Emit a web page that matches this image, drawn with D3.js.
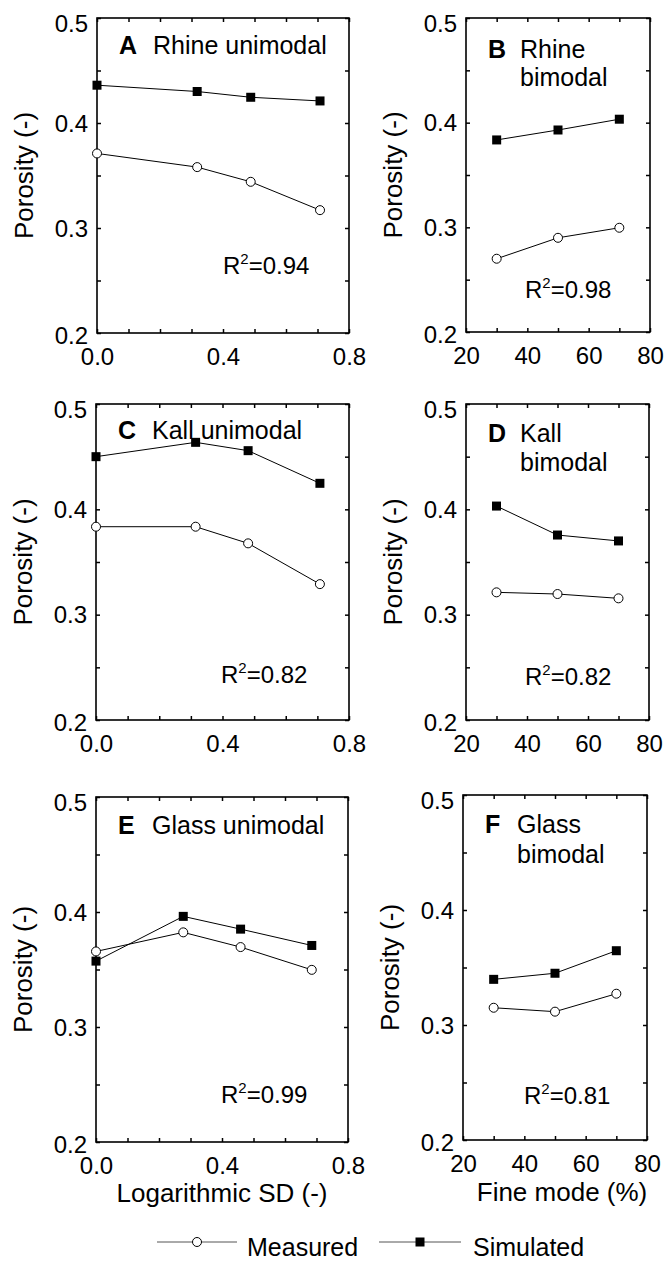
<!DOCTYPE html>
<html>
<head>
<meta charset="utf-8">
<script src="https://cdn.jsdelivr.net/npm/d3@7"></script>
<style>
  body { margin: 0; background: #fff; }
  svg { font-family: "Liberation Sans", Arial, sans-serif; }
</style>
</head>
<body>
<div id="chart"></div>
<script>
// data
var sdA = [0, 0.318, 0.488, 0.708];
var sdC = [0, 0.315, 0.481, 0.708];
var sdE = [0, 0.277, 0.459, 0.685];
var fineMode = [30, 50, 70];

var measA = [0.371, 0.358, 0.344, 0.317];
var simA  = [0.436, 0.430, 0.4245, 0.421];
var measB = [0.270, 0.290, 0.2996];
var simB  = [0.3835, 0.393, 0.4033];
var measC = [0.3835, 0.3835, 0.3677, 0.329];
var simC  = [0.450, 0.4636, 0.4557, 0.4247];
var measD = [0.3212, 0.3196, 0.3155];
var simD  = [0.4031, 0.3756, 0.370];
var measE = [0.3657, 0.3823, 0.3695, 0.3497];
var simE  = [0.3573, 0.3962, 0.3851, 0.3709];
var measF = [0.315, 0.3116, 0.3272];
var simF  = [0.3397, 0.345, 0.3646];

var letters = ["A", "B", "C", "D", "E", "F"];
var titles = [["Rhine unimodal"], ["Rhine", "bimodal"], ["Kall unimodal"],
              ["Kall", "bimodal"], ["Glass unimodal"], ["Glass", "bimodal"]];
var r2 = ["0.94", "0.98", "0.82", "0.82", "0.99", "0.81"];
var yTicks = [0.2, 0.3, 0.4, 0.5];
var yMinor = [0.2, 0.25, 0.3, 0.35, 0.4, 0.45, 0.5];
var sdTicks = [0.0, 0.4, 0.8];
var sdMinor = [0, 0.1, 0.2, 0.3, 0.4, 0.5, 0.6, 0.7, 0.8];
var fineTicks = [20, 40, 60, 80];
var fineMinor = [20, 30, 40, 50, 60, 70, 80];

var width = 667, height = 1264;

var svg = d3.select("#chart").append("svg")
  .attr("width", width)
  .attr("height", height);

svg.append("rect").attr("width", width).attr("height", height).attr("fill", "#fff");

// panel boxes and label offsets
var panels = [
  {x: sdA, meas: measA, sim: simA, l: 97, r: 349, t: 18, b: 333, tt: 36, lh: 0, r2x: 126, r2y: 59},
  {x: fineMode, meas: measB, sim: simB, l: 466, r: 650, t: 18, b: 332, tt: 40, lh: 28, r2x: 59, r2y: 34},
  {x: sdC, meas: measC, sim: simC, l: 96, r: 349, t: 404, b: 720, tt: 35, lh: 0, r2x: 125, r2y: 37},
  {x: fineMode, meas: measD, sim: simD, l: 466, r: 649, t: 404, b: 720, tt: 38, lh: 29, r2x: 59, r2y: 35},
  {x: sdE, meas: measE, sim: simE, l: 96, r: 348, t: 797, b: 1142, tt: 37, lh: 0, r2x: 125, r2y: 39},
  {x: fineMode, meas: measF, sim: simF, l: 463, r: 647, t: 795, b: 1140, tt: 38, lh: 30, r2x: 61, r2y: 36}
];

panels.forEach(function(p, i) {
  var uni = (i % 2 === 0);
  var w = p.r - p.l, h = p.b - p.t;

  var x = d3.scaleLinear()
    .domain(uni ? [0, 0.8] : [20, 80])
    .range([0, w]);
  var y = d3.scaleLinear()
    .domain([0.2, 0.5])
    .range([h, 0]);

  var g = svg.append("g")
    .attr("transform", "translate(" + p.l + "," + p.t + ")");

  // inward minor ticks on all four sides
  var mx = uni ? sdMinor : fineMinor;
  [[d3.axisBottom(x), h], [d3.axisTop(x), 0]].forEach(function(a) {
    var ax = g.append("g").attr("transform", "translate(0," + a[1] + ")")
      .call(a[0].tickValues(mx).tickSizeInner(-4).tickSizeOuter(0).tickFormat(""));
    ax.select(".domain").remove();
    ax.selectAll("line").attr("stroke", "#000").attr("stroke-width", 1.5);
  });
  [[d3.axisLeft(y), 0], [d3.axisRight(y), w]].forEach(function(a) {
    var ax = g.append("g").attr("transform", "translate(" + a[1] + ",0)")
      .call(a[0].tickValues(yMinor).tickSizeInner(-4).tickSizeOuter(0).tickFormat(""));
    ax.select(".domain").remove();
    ax.selectAll("line").attr("stroke", "#000").attr("stroke-width", 1.5);
  });

  // frame
  g.append("rect")
    .attr("width", w).attr("height", h)
    .attr("fill", "none")
    .attr("stroke", "#000")
    .attr("stroke-width", 1.6);

  // tick labels
  var xl = g.append("g").attr("transform", "translate(0," + h + ")")
    .call(d3.axisBottom(x)
      .tickValues(uni ? sdTicks : fineTicks)
      .tickSize(0).tickPadding(15)
      .tickFormat(uni ? d3.format(".1f") : d3.format("d")));
  xl.select(".domain").remove();
  xl.selectAll("text").attr("font-size", "24px").attr("fill", "#000")
    .attr("font-family", "Liberation Sans, Arial, sans-serif");

  var yl = g.append("g")
    .call(d3.axisLeft(y).tickValues(yTicks).tickSize(0).tickPadding(9)
      .tickFormat(d3.format(".1f")));
  yl.select(".domain").remove();
  yl.selectAll("text").attr("font-size", "24px").attr("fill", "#000")
    .attr("font-family", "Liberation Sans, Arial, sans-serif")
    .attr("dy", function(d) { return d === 0.5 ? "0.55em" : (d === 0.2 ? "0.45em" : "0.34em"); });

  // y axis title
  g.append("text")
    .attr("transform", "translate(-64," + (h / 2) + ") rotate(-90)")
    .attr("text-anchor", "middle")
    .attr("font-size", "26px")
    .text("Porosity (-)");

  // lines and markers
  var line = d3.line()
    .x(function(d) { return x(d[0]); })
    .y(function(d) { return y(d[1]); });

  var simPts = d3.zip(p.x, p.sim);
  var measPts = d3.zip(p.x, p.meas);

  g.append("path").datum(simPts)
    .attr("fill", "none").attr("stroke", "#000").attr("stroke-width", 1)
    .attr("d", line);
  g.append("path").datum(measPts)
    .attr("fill", "none").attr("stroke", "#000").attr("stroke-width", 1)
    .attr("d", line);

  g.selectAll(".sq").data(simPts).enter().append("rect")
    .attr("x", function(d) { return x(d[0]) - 4.5; })
    .attr("y", function(d) { return y(d[1]) - 4.5; })
    .attr("width", 9).attr("height", 9)
    .attr("fill", "#000");

  g.selectAll(".ci").data(measPts).enter().append("circle")
    .attr("cx", function(d) { return x(d[0]); })
    .attr("cy", function(d) { return y(d[1]); })
    .attr("r", 4.5)
    .attr("fill", "#fff").attr("stroke", "#000").attr("stroke-width", 1);

  // panel title
  var tt = g.append("text")
    .attr("x", 22).attr("y", p.tt)
    .attr("font-size", "25px");
  tt.append("tspan").attr("font-weight", "bold").text(letters[i]);
  var tx = (i % 2 === 0) ? 56 : 54;
  titles[i].forEach(function(s, k) {
    g.append("text")
      .attr("x", tx).attr("y", p.tt + k * p.lh)
      .attr("font-size", "25px")
      .text(s);
  });

  // R squared
  var rt = g.append("text")
    .attr("x", p.r2x).attr("y", h - p.r2y)
    .attr("font-size", "24px");
  rt.append("tspan").text("R");
  rt.append("tspan").attr("font-size", "15px").attr("dy", "-10").text("2");
  rt.append("tspan").attr("dy", "10").text("=" + r2[i]);
});

// x axis titles
svg.append("text")
  .attr("x", 222).attr("y", 1202)
  .attr("text-anchor", "middle")
  .attr("font-size", "26px")
  .text("Logarithmic SD (-)");
svg.append("text")
  .attr("x", 562).attr("y", 1201)
  .attr("text-anchor", "middle")
  .attr("font-size", "26px")
  .text("Fine mode (%)");

// legend
var leg = svg.append("g");
leg.append("line").attr("x1", 157).attr("x2", 237).attr("y1", 1242).attr("y2", 1242)
  .attr("stroke", "#555").attr("stroke-width", 1);
leg.append("circle").attr("cx", 197).attr("cy", 1242).attr("r", 4.5)
  .attr("fill", "#fff").attr("stroke", "#000");
leg.append("text").attr("x", 247).attr("y", 1256).attr("font-size", "25px").text("Measured");
leg.append("line").attr("x1", 379).attr("x2", 461).attr("y1", 1242).attr("y2", 1242)
  .attr("stroke", "#555").attr("stroke-width", 1);
leg.append("rect").attr("x", 415.5).attr("y", 1237.5).attr("width", 9).attr("height", 9)
  .attr("fill", "#000");
leg.append("text").attr("x", 473).attr("y", 1256).attr("font-size", "25px").text("Simulated");
</script>
</body>
</html>
